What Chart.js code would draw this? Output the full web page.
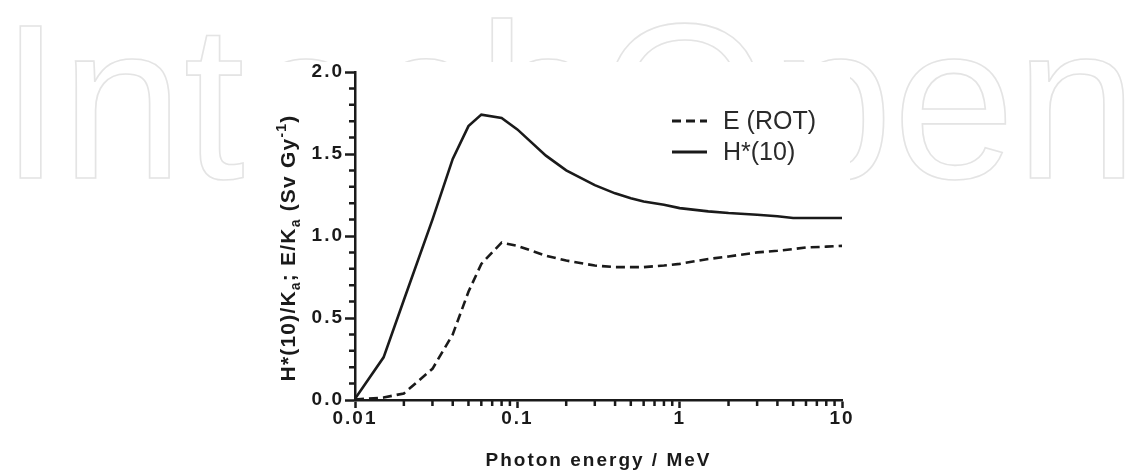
<!DOCTYPE html>
<html>
<head>
<meta charset="utf-8">
<script src="https://cdn.jsdelivr.net/npm/chart.js@4.4.1/dist/chart.umd.min.js"></script>
<style>
  html, body { margin: 0; padding: 0; background: #fff; }
  #wrap { width: 1145px; height: 473px; }
</style>
</head>
<body>
<div id="wrap"><canvas id="doseChart"></canvas></div>
<script>
// photon energy (MeV) and conversion coefficients
const energy = [0.01, 0.015, 0.02, 0.03, 0.04, 0.05, 0.06, 0.08, 0.1, 0.15, 0.2, 0.3, 0.4, 0.5, 0.6, 0.8, 1, 1.5, 2, 3, 4, 5, 6, 8, 10];
const hStar10 = [0.008, 0.26, 0.61, 1.10, 1.47, 1.67, 1.74, 1.72, 1.65, 1.49, 1.40, 1.31, 1.26, 1.23, 1.21, 1.19, 1.17, 1.15, 1.14, 1.13, 1.12, 1.11, 1.11, 1.11, 1.11];
const eRot = [0.003, 0.015, 0.04, 0.19, 0.40, 0.66, 0.83, 0.96, 0.94, 0.88, 0.85, 0.82, 0.81, 0.81, 0.81, 0.82, 0.83, 0.86, 0.875, 0.90, 0.91, 0.92, 0.93, 0.935, 0.94];

const xTickValues = [0.01, 0.1, 1, 10];
const yTickValues = [0, 0.5, 1.0, 1.5, 2.0];
const seriesLabels = ['E (ROT)', 'H*(10)'];
const xTitle = 'Photon energy / MeV';
// y title pieces: normal text, subscript (sub) and superscript (sup)
const yTitleParts = [
    ['H*(10)/K', ''], ['a', 'sub'], ['; E/K', ''], ['a', 'sub'], [' (Sv Gy', ''], ['-1', 'sup'], [')', ''],
];
const watermark = 'IntechOpen';

const FONT = "'Liberation Sans', Arial, sans-serif";
const INK = '#1a1a1a';

const toPoints = (ys) => energy.map((x, i) => ({ x: x, y: ys[i] }));

// faint publisher watermark behind a white figure panel
const backdrop = {
    id: 'backdrop',
    beforeDraw(chart) {
        const ctx = chart.ctx;
        ctx.save();
        ctx.fillStyle = '#fff';
        ctx.fillRect(0, 0, chart.width, chart.height);
        ctx.font = '220px ' + FONT;
        ctx.strokeStyle = '#e4e4e4';
        ctx.lineWidth = 1.6;
        ctx.textBaseline = 'alphabetic';
        ctx.strokeText(watermark, 0, 178);
        ctx.fillStyle = '#fff';
        ctx.fillRect(245, 62, 605, chart.height - 62);
        ctx.restore();
        ctx.letterSpacing = '2px';
    },
};

// minor ticks (0.1 steps on y, 2..9 per decade on x)
const minorTicks = {
    id: 'minorTicks',
    afterDraw(chart) {
        const ctx = chart.ctx;
        const xs = chart.scales.x;
        const ys = chart.scales.y;
        ctx.save();
        ctx.strokeStyle = INK;
        ctx.lineWidth = 2.5;
        ctx.beginPath();
        for (let i = 1; i < 20; i++) {
            if (i % 5 === 0) continue;
            const py = ys.getPixelForValue(i / 10);
            ctx.moveTo(xs.left - 6, py);
            ctx.lineTo(xs.left, py);
        }
        for (let d = 0.01; d < 10; d *= 10) {
            for (let m = 2; m <= 9; m++) {
                const px = xs.getPixelForValue(d * m);
                ctx.moveTo(px, ys.bottom);
                ctx.lineTo(px, ys.bottom + 6);
            }
        }
        ctx.stroke();
        ctx.restore();
    },
};

// rotated y title with real sub/superscripts
const yTitleDraw = {
    id: 'yTitleDraw',
    afterDraw(chart) {
        const ctx = chart.ctx;
        const big = 'bold 21px ' + FONT;
        const small = 'bold 14px ' + FONT;
        ctx.save();
        ctx.letterSpacing = '1.2px';
        ctx.fillStyle = INK;
        ctx.textBaseline = 'alphabetic';
        let total = 0;
        const widths = yTitleParts.map(([t, kind]) => {
            ctx.font = kind ? small : big;
            const w = ctx.measureText(t).width;
            total += w;
            return w;
        });
        ctx.translate(295, 248);
        ctx.rotate(-Math.PI / 2);
        let x = -total / 2;
        yTitleParts.forEach(([t, kind], i) => {
            ctx.font = kind ? small : big;
            const dy = kind === 'sub' ? 5 : kind === 'sup' ? -9 : 0;
            ctx.fillText(t, x, dy);
            x += widths[i];
        });
        ctx.restore();
    },
};

// legend in the upper right of the plot
const insetLegend = {
    id: 'insetLegend',
    afterDraw(chart) {
        const ctx = chart.ctx;
        ctx.save();
        ctx.letterSpacing = '0px';
        ctx.font = '25px ' + FONT;
        ctx.textBaseline = 'middle';
        chart.data.datasets.forEach((ds, i) => {
            const y = 121 + i * 31;
            ctx.strokeStyle = INK;
            ctx.lineWidth = 3;
            ctx.setLineDash(ds.borderDash || []);
            ctx.beginPath();
            ctx.moveTo(672, y);
            ctx.lineTo(707, y);
            ctx.stroke();
            ctx.setLineDash([]);
            ctx.fillStyle = '#2a2a2a';
            ctx.fillText(ds.label, 723, y + 1);
        });
        ctx.restore();
    },
};

new Chart(document.getElementById('doseChart'), {
    type: 'line',
    data: {
        datasets: [
            {
                label: seriesLabels[0],
                data: toPoints(eRot),
                borderColor: INK,
                borderWidth: 2.6,
                borderDash: [9, 5],
                pointRadius: 0,
                tension: 0,
            },
            {
                label: seriesLabels[1],
                data: toPoints(hStar10),
                borderColor: INK,
                borderWidth: 2.6,
                pointRadius: 0,
                tension: 0,
            },
        ],
    },
    options: {
        responsive: true,
        maintainAspectRatio: false,
        animation: false,
        layout: { padding: { left: 240, right: 303, top: 72, bottom: 0 } },
        plugins: {
            legend: { display: false },
            tooltip: { enabled: false },
        },
        scales: {
            x: {
                type: 'logarithmic',
                min: 0.01,
                max: 10,
                afterBuildTicks: (s) => { s.ticks = xTickValues.map((v) => ({ value: v })); },
                afterFit: (s) => { s.height = 73; },
                border: { color: INK, width: 2.5 },
                grid: { drawOnChartArea: false, drawTicks: true, tickLength: 8, tickWidth: 2.5, tickColor: INK },
                ticks: {
                    color: INK,
                    font: { family: FONT, size: 19, weight: 'bold' },
                    padding: -1,
                    maxRotation: 0,
                    autoSkip: false,
                    callback: (v) => String(v),
                },
                title: {
                    display: true,
                    text: xTitle,
                    color: INK,
                    font: { family: FONT, size: 19, weight: 'bold' },
                    padding: { top: 0, bottom: 1 },
                },
            },
            y: {
                min: 0,
                max: 2,
                afterBuildTicks: (s) => { s.ticks = yTickValues.map((v) => ({ value: v })); },
                afterFit: (s) => { s.width = 115; },
                border: { color: INK, width: 2.5 },
                grid: { drawOnChartArea: false, drawTicks: true, tickLength: 10, tickWidth: 2.5, tickColor: INK },
                ticks: {
                    color: INK,
                    font: { family: FONT, size: 19, weight: 'bold' },
                    padding: 1,
                    callback: (v) => v.toFixed(1),
                },
                title: { display: false },
            },
        },
    },
    plugins: [backdrop, minorTicks, yTitleDraw, insetLegend],
});
</script>
</body>
</html>
